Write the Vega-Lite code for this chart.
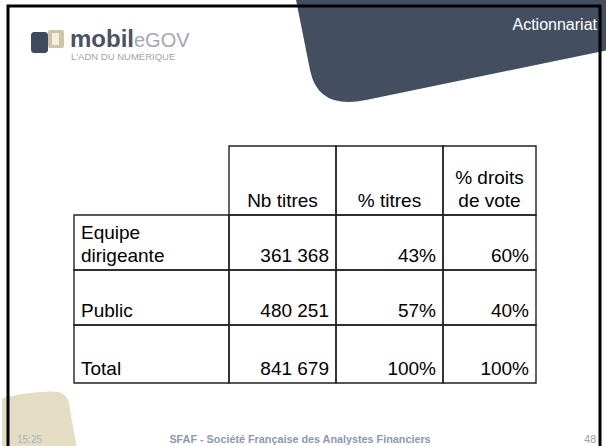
{
  "$schema": "https://vega.github.io/schema/vega-lite/v6.json",
  "width": 606,
  "height": 446,
  "autosize": {"type": "fit", "contains": "padding"},
  "padding": 0,
  "background": "white",
  "config": {"view": {"stroke": null}, "font": "Liberation Sans"},
  "layer": [
    {
      "data": {"values": [{}]},
      "layer": [
        {
          "mark": {"type": "point", "shape": "M -1 -0.333 L 1 -0.333 L 1 -0.013 L -0.551 0.308 Q -0.859 0.372 -0.91 0.115 Z", "filled": true, "fill": "#434f61", "opacity": 1, "strokeWidth": 0, "size": 97344},
          "encoding": {
            "x": {"datum": 452, "type": "quantitative", "scale": {"domain": [0, 606], "range": [0, 606], "nice": false, "zero": false}, "axis": null},
            "y": {"datum": 50, "type": "quantitative", "scale": {"domain": [0, 446], "range": [0, 446], "nice": false, "zero": false}, "axis": null}
          }
        },
        {
          "mark": {"type": "point", "shape": "M -1 -0.55 Q -0.05 -0.75 0.4 -0.7 Q 0.68 -0.65 0.7 -0.25 L 0.88 0.75 L -1 0.75 Z", "filled": true, "fill": "#e4ddc3", "opacity": 1, "strokeWidth": 0, "size": 6400},
          "encoding": {
            "x": {"datum": 42, "type": "quantitative", "scale": {"domain": [0, 606], "range": [0, 606], "nice": false, "zero": false}, "axis": null},
            "y": {"datum": 418, "type": "quantitative", "scale": {"domain": [0, 446], "range": [0, 446], "nice": false, "zero": false}, "axis": null}
          }
        },
        {
          "mark": {"type": "rect", "fill": "#3e4b5e", "cornerRadius": 3},
          "encoding": {
            "x": {"datum": 31, "type": "quantitative", "scale": {"domain": [0, 606], "range": [0, 606], "nice": false, "zero": false}, "axis": null},
            "x2": {"datum": 48},
            "y": {"datum": 30, "type": "quantitative", "scale": {"domain": [0, 446], "range": [0, 446], "nice": false, "zero": false}, "axis": null},
            "y2": {"datum": 51}
          }
        },
        {
          "mark": {"type": "rect", "fill": "#cfc3a1", "cornerRadius": 2},
          "encoding": {
            "x": {"datum": 48, "type": "quantitative", "scale": {"domain": [0, 606], "range": [0, 606], "nice": false, "zero": false}, "axis": null},
            "x2": {"datum": 64},
            "y": {"datum": 28, "type": "quantitative", "scale": {"domain": [0, 446], "range": [0, 446], "nice": false, "zero": false}, "axis": null},
            "y2": {"datum": 46}
          }
        },
        {
          "mark": {"type": "rect", "fill": "#f3eee2"},
          "encoding": {
            "x": {"datum": 52, "type": "quantitative", "scale": {"domain": [0, 606], "range": [0, 606], "nice": false, "zero": false}, "axis": null},
            "x2": {"datum": 59},
            "y": {"datum": 31, "type": "quantitative", "scale": {"domain": [0, 446], "range": [0, 446], "nice": false, "zero": false}, "axis": null},
            "y2": {"datum": 43}
          }
        },
        {
          "mark": {"type": "text", "text": "mobil", "fontSize": 24, "fontWeight": "bold", "fill": "#4a5263", "align": "left", "baseline": "alphabetic"},
          "encoding": {
            "x": {"datum": 70, "type": "quantitative", "scale": {"domain": [0, 606], "range": [0, 606], "nice": false, "zero": false}, "axis": null},
            "y": {"datum": 45, "type": "quantitative", "scale": {"domain": [0, 446], "range": [0, 446], "nice": false, "zero": false}, "axis": null}
          }
        },
        {
          "mark": {"type": "text", "text": "eGOV", "fontSize": 20, "fill": "#a2a8b0", "align": "left", "baseline": "alphabetic"},
          "encoding": {
            "x": {"datum": 134, "type": "quantitative", "scale": {"domain": [0, 606], "range": [0, 606], "nice": false, "zero": false}, "axis": null},
            "y": {"datum": 45, "type": "quantitative", "scale": {"domain": [0, 446], "range": [0, 446], "nice": false, "zero": false}, "axis": null}
          }
        },
        {
          "mark": {"type": "text", "text": "L'ADN DU NUMÉRIQUE", "fontSize": 9.5, "fill": "#a3a3a3", "align": "left", "baseline": "alphabetic"},
          "encoding": {
            "x": {"datum": 71, "type": "quantitative", "scale": {"domain": [0, 606], "range": [0, 606], "nice": false, "zero": false}, "axis": null},
            "y": {"datum": 58, "type": "quantitative", "scale": {"domain": [0, 446], "range": [0, 446], "nice": false, "zero": false}, "axis": null}
          }
        },
        {
          "mark": {"type": "text", "text": "Actionnariat", "fontSize": 16, "fill": "white", "align": "right", "baseline": "alphabetic"},
          "encoding": {
            "x": {"datum": 597, "type": "quantitative", "scale": {"domain": [0, 606], "range": [0, 606], "nice": false, "zero": false}, "axis": null},
            "y": {"datum": 28, "type": "quantitative", "scale": {"domain": [0, 446], "range": [0, 446], "nice": false, "zero": false}, "axis": null}
          }
        },
        {
          "mark": {"type": "text", "text": "15:25", "fontSize": 10, "fill": "#a9b3c3", "align": "left", "baseline": "alphabetic"},
          "encoding": {
            "x": {"datum": 17, "type": "quantitative", "scale": {"domain": [0, 606], "range": [0, 606], "nice": false, "zero": false}, "axis": null},
            "y": {"datum": 441, "type": "quantitative", "scale": {"domain": [0, 446], "range": [0, 446], "nice": false, "zero": false}, "axis": null}
          }
        },
        {
          "mark": {"type": "text", "text": "SFAF - Société Française des Analystes Financiers", "fontSize": 10.8, "fontWeight": "bold", "fill": "#8a99b2", "align": "center", "baseline": "alphabetic"},
          "encoding": {
            "x": {"datum": 300, "type": "quantitative", "scale": {"domain": [0, 606], "range": [0, 606], "nice": false, "zero": false}, "axis": null},
            "y": {"datum": 441, "type": "quantitative", "scale": {"domain": [0, 446], "range": [0, 446], "nice": false, "zero": false}, "axis": null}
          }
        },
        {
          "mark": {"type": "text", "text": "48", "fontSize": 10.5, "fill": "#8f9bb0", "align": "right", "baseline": "alphabetic"},
          "encoding": {
            "x": {"datum": 596, "type": "quantitative", "scale": {"domain": [0, 606], "range": [0, 606], "nice": false, "zero": false}, "axis": null},
            "y": {"datum": 441, "type": "quantitative", "scale": {"domain": [0, 446], "range": [0, 446], "nice": false, "zero": false}, "axis": null}
          }
        },
        {
          "mark": {"type": "rect", "fillOpacity": 0, "stroke": "#000000", "strokeWidth": 3},
          "encoding": {
            "x": {"datum": 8, "type": "quantitative", "scale": {"domain": [0, 606], "range": [0, 606], "nice": false, "zero": false}, "axis": null},
            "x2": {"datum": 600},
            "y": {"datum": 4, "type": "quantitative", "scale": {"domain": [0, 446], "range": [0, 446], "nice": false, "zero": false}, "axis": null},
            "y2": {"datum": 452}
          }
        }
      ]
    },
    {
      "data": {
        "values": [
          {"r": 0, "c": 1, "t": "Nb titres"},
          {"r": 0, "c": 2, "t": "% titres"},
          {"r": 0, "c": 3, "t": "% droits\nde vote"},
          {"r": 1, "c": 0, "t": "Equipe\ndirigeante"},
          {"r": 1, "c": 1, "t": "361 368"},
          {"r": 1, "c": 2, "t": "43%"},
          {"r": 1, "c": 3, "t": "60%"},
          {"r": 2, "c": 0, "t": "Public"},
          {"r": 2, "c": 1, "t": "480 251"},
          {"r": 2, "c": 2, "t": "57%"},
          {"r": 2, "c": 3, "t": "40%"},
          {"r": 3, "c": 0, "t": "Total"},
          {"r": 3, "c": 1, "t": "841 679"},
          {"r": 3, "c": 2, "t": "100%"},
          {"r": 3, "c": 3, "t": "100%"}
        ]
      },
      "transform": [
        {"calculate": "datum.c + 1", "as": "c1"},
        {"calculate": "datum.c + 0.5", "as": "cm"},
        {"calculate": "datum.r + 1", "as": "r1"},
        {"calculate": "indexof(datum.t, '\\n') >= 0", "as": "multi"}
      ],
      "layer": [
        {
          "mark": {"type": "rect", "fillOpacity": 0, "stroke": "#222222", "strokeWidth": 1.4},
          "encoding": {
            "x": {"field": "c", "type": "quantitative", "scale": {"domain": [0, 1, 2, 3, 4], "range": [74, 229, 336, 443, 536], "nice": false, "zero": false}, "axis": null},
            "x2": {"field": "c1"},
            "y": {"field": "r", "type": "quantitative", "scale": {"domain": [0, 1, 2, 3, 4], "range": [144, 213, 268, 323, 381], "nice": false, "zero": false}, "axis": null},
            "y2": {"field": "r1"}
          }
        },
        {
          "transform": [{"filter": "datum.r == 0 && !datum.multi"}],
          "mark": {"type": "text", "fontSize": 19, "lineHeight": 23, "lineBreak": "\n", "align": "center", "baseline": "bottom", "dy": -4, "fill": "#000000"},
          "encoding": {
            "x": {"field": "cm", "type": "quantitative", "scale": {"domain": [0, 1, 2, 3, 4], "range": [74, 229, 336, 443, 536], "nice": false, "zero": false}, "axis": null},
            "y": {"field": "r1", "type": "quantitative", "scale": {"domain": [0, 1, 2, 3, 4], "range": [144, 213, 268, 323, 381], "nice": false, "zero": false}, "axis": null},
            "text": {"field": "t"}
          }
        },
        {
          "transform": [{"filter": "datum.r == 0 && datum.multi"}],
          "mark": {"type": "text", "fontSize": 19, "lineHeight": 23, "lineBreak": "\n", "align": "center", "baseline": "bottom", "dy": -27, "fill": "#000000"},
          "encoding": {
            "x": {"field": "cm", "type": "quantitative", "scale": {"domain": [0, 1, 2, 3, 4], "range": [74, 229, 336, 443, 536], "nice": false, "zero": false}, "axis": null},
            "y": {"field": "r1", "type": "quantitative", "scale": {"domain": [0, 1, 2, 3, 4], "range": [144, 213, 268, 323, 381], "nice": false, "zero": false}, "axis": null},
            "text": {"field": "t"}
          }
        },
        {
          "transform": [{"filter": "datum.r > 0 && datum.c == 0 && !datum.multi"}],
          "mark": {"type": "text", "fontSize": 19, "lineHeight": 23, "lineBreak": "\n", "align": "left", "baseline": "bottom", "dx": 7, "dy": -4, "fill": "#000000"},
          "encoding": {
            "x": {"field": "c", "type": "quantitative", "scale": {"domain": [0, 1, 2, 3, 4], "range": [74, 229, 336, 443, 536], "nice": false, "zero": false}, "axis": null},
            "y": {"field": "r1", "type": "quantitative", "scale": {"domain": [0, 1, 2, 3, 4], "range": [144, 213, 268, 323, 381], "nice": false, "zero": false}, "axis": null},
            "text": {"field": "t"}
          }
        },
        {
          "transform": [{"filter": "datum.r > 0 && datum.c == 0 && datum.multi"}],
          "mark": {"type": "text", "fontSize": 19, "lineHeight": 23, "lineBreak": "\n", "align": "left", "baseline": "bottom", "dx": 7, "dy": -27, "fill": "#000000"},
          "encoding": {
            "x": {"field": "c", "type": "quantitative", "scale": {"domain": [0, 1, 2, 3, 4], "range": [74, 229, 336, 443, 536], "nice": false, "zero": false}, "axis": null},
            "y": {"field": "r1", "type": "quantitative", "scale": {"domain": [0, 1, 2, 3, 4], "range": [144, 213, 268, 323, 381], "nice": false, "zero": false}, "axis": null},
            "text": {"field": "t"}
          }
        },
        {
          "transform": [{"filter": "datum.r > 0 && datum.c > 0"}],
          "mark": {"type": "text", "fontSize": 19, "align": "right", "baseline": "bottom", "dx": -7, "dy": -4, "fill": "#000000"},
          "encoding": {
            "x": {"field": "c1", "type": "quantitative", "scale": {"domain": [0, 1, 2, 3, 4], "range": [74, 229, 336, 443, 536], "nice": false, "zero": false}, "axis": null},
            "y": {"field": "r1", "type": "quantitative", "scale": {"domain": [0, 1, 2, 3, 4], "range": [144, 213, 268, 323, 381], "nice": false, "zero": false}, "axis": null},
            "text": {"field": "t"}
          }
        }
      ]
    }
  ],
  "resolve": {"scale": {"x": "independent", "y": "independent"}}
}
